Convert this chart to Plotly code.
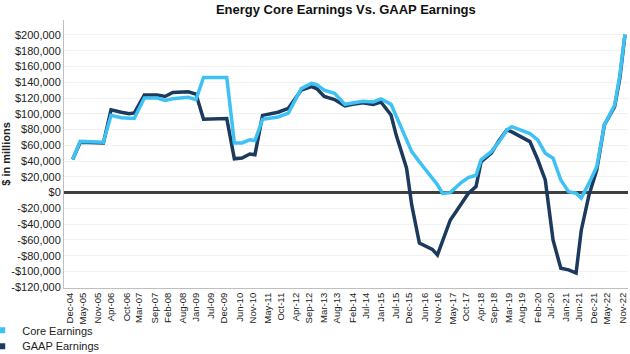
import plotly.graph_objects as go
import pandas as pd

# Month offsets from Dec-2004 and values ($ millions)
month_offsets = [0, 3, 12, 15, 19, 22, 24, 28, 33, 36, 39, 45, 48, 51, 60, 63, 66, 69, 71, 74, 80, 84,
                 89, 93, 95, 98, 102, 106, 109, 113, 117, 120, 124, 126, 130, 132, 135, 140, 142, 144,
                 147, 151, 154, 157, 159, 163, 166, 169, 171, 178, 181, 184, 187, 190, 193, 196, 198,
                 201, 204, 207, 211, 213, 215]
core_earnings = [42000, 65000, 64000, 98000, 95000, 94000, 94000, 120000, 120000, 117000, 119000, 121000,
                 118000, 146000, 146000, 63000, 63000, 67000, 66000, 93000, 96000, 101000,
                 132000, 138500, 137000, 130000, 126000, 112000, 114000, 116000, 115000, 119000, 112000,
                 97000, 69000, 52000, 39000, 18000, 10000, -1000,
                 0, 12000, 19000, 22000, 41500, 52000, 64700, 79500, 83700, 75000, 67000, 50000, 43600,
                 16000, 1300, -700, -7000,
                 12000, 33000, 86000, 111000, 149000, 201000]
gaap_earnings = [42000, 64000, 63000, 105000, 102000, 100000, 101000, 124000, 124000, 122000, 127000, 128000,
                 125000, 93000, 94000, 43000, 44000, 49000, 48000, 98000, 102000, 107000,
                 130000, 134500, 132000, 122000, 118000, 110000, 112000, 114000, 112000, 115000, 98500,
                 73000, 31000, -15600, -64000, -72000, -79000, -62000,
                 -35000, -15600, -1000, 7600, 39000, 50000, 66000, 79500, 77000, 64700, 42000, 16000, -60000,
                 -96000, -98000, -102000, -48000,
                 -3000, 28800, 86000, 109000, 145000, 200000]

tick_labels = ["Dec-04", "May-05", "Nov-05", "Apr-06", "Oct-06", "Mar-07", "Sep-07", "Feb-08", "Aug-08",
               "Jan-09", "Jul-09", "Dec-09", "Jun-10", "Nov-10", "May-11", "Oct-11", "Apr-12", "Sep-12",
               "Mar-13", "Aug-13", "Feb-14", "Jul-14", "Jan-15", "Jul-15", "Dec-15", "Jun-16", "Nov-16",
               "May-17", "Oct-17", "Apr-18", "Sep-18", "Mar-19", "Aug-19", "Feb-20", "Jul-20", "Jan-21",
               "Jun-21", "Dec-21", "May-22", "Nov-22"]
y_ticks = list(range(-120000, 200001, 20000))

base = pd.Timestamp("2004-12-31")
dates = [base + pd.offsets.MonthEnd(m) for m in month_offsets]
tick_dates = [pd.to_datetime(t, format="%b-%y") for t in tick_labels]
y_text = [("-$" if v < 0 else "$") + f"{abs(v):,}" for v in y_ticks]

CORE = "#3EC1F3"
GAAP = "#1B3A5E"
FONT = "Arial, Liberation Sans, sans-serif"

fig = go.Figure()
fig.add_trace(go.Scatter(x=dates, y=gaap_earnings, mode="lines", line=dict(color=GAAP, width=3.5),
                         showlegend=False))
fig.add_trace(go.Scatter(x=dates, y=core_earnings, mode="lines", line=dict(color=CORE, width=3.5),
                         showlegend=False))
fig.add_trace(go.Scatter(x=[None], y=[None], mode="markers", name="Core Earnings", legend="legend",
                         marker=dict(symbol="square", color=CORE, size=6)))
fig.add_trace(go.Scatter(x=[None], y=[None], mode="markers", name="GAAP Earnings", legend="legend2",
                         marker=dict(symbol="square", color=GAAP, size=6)))

leg_common = dict(xref="paper", yref="container", x=-0.145, xanchor="left", yanchor="top",
                  orientation="v", font=dict(size=11, color="#222222"), itemwidth=30,
                  bgcolor="rgba(0,0,0,0)")

fig.update_layout(
    width=630, height=354,
    margin=dict(l=64, r=2, t=20, b=66, autoexpand=False),
    paper_bgcolor="white", plot_bgcolor="white",
    font=dict(family=FONT, size=11, color="#222222"),
    title=dict(text="<b>Energy Core Earnings Vs. GAAP Earnings</b>", xref="container", x=0.549,
               xanchor="center", y=0.985, yanchor="top", yref="container",
               font=dict(size=13, color="#111111")),
    xaxis=dict(type="date", range=[pd.Timestamp("2004-09-20"), pd.Timestamp("2023-01-05")],
               tickvals=tick_dates, ticktext=tick_labels, tickangle=-90,
               showgrid=False, showline=True, linecolor="#BFBFBF", linewidth=1,
               ticks="", tickfont=dict(size=9.5)),
    yaxis=dict(range=[-121000, 219000], tickvals=y_ticks, ticktext=y_text,
               showgrid=True, gridcolor="#F2F2F2", gridwidth=1,
               zeroline=True, zerolinecolor="#404040", zerolinewidth=2.5,
               showline=True, linecolor="#BFBFBF", linewidth=1, ticks="",
               title=dict(text="<b>$ in millions</b>", standoff=4, font=dict(size=11)),
               tickfont=dict(size=11)),
    legend=dict(y=0.108, **leg_common),
    legend2=dict(y=0.063, **leg_common),
)

fig.write_html("out.html")
